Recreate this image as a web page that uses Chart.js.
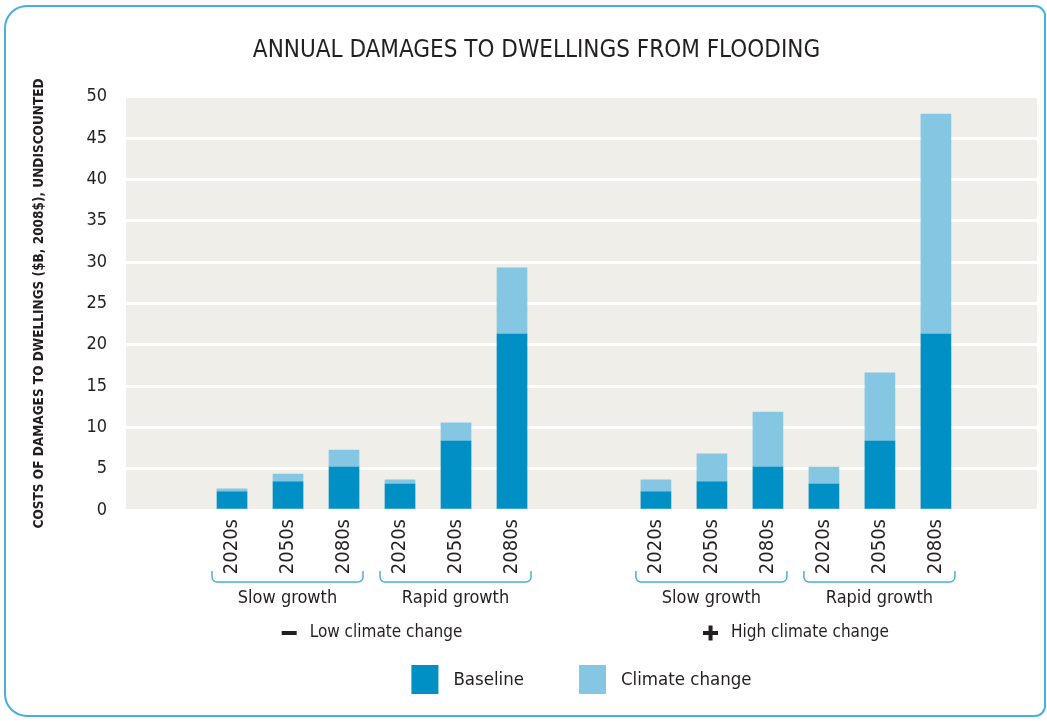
<!DOCTYPE html>
<html>
<head>
<meta charset="utf-8">
<script src="https://cdn.jsdelivr.net/npm/chart.js@4/dist/chart.umd.min.js"></script>
<style>
  html, body { margin: 0; padding: 0; background: #fff; }
  canvas { display: block; }
</style>
</head>
<body>
<canvas id="floodChart" width="1047" height="721"></canvas>
<script>
const FONT = "'Liberation Sans Narrow', 'DejaVu Sans Condensed', Roboto, sans-serif"
const textColor = '#231F20'
const baselineColor = '#0090C5'
const climateColor = '#85C6E3'
const plotBg = '#EFEEE9'
const lineBlue = '#4AAFDD'

const chartTitle = 'ANNUAL DAMAGES TO DWELLINGS FROM FLOODING'
const yTitle = 'COSTS OF DAMAGES TO DWELLINGS ($B, 2008$), UNDISCOUNTED'
const periods = ['2020s', '2050s', '2080s']
const growthLabels = ['Slow growth', 'Rapid growth']
const climateLabels = ['Low climate change', 'High climate change']
const climateIcons = ['minus', 'plus']
const seriesLabels = ['Baseline', 'Climate change']

// bars: low climate (slow 2020s-2080s, rapid 2020s-2080s), then high climate, same order
const baselineValues = [2.2, 3.4, 5.2, 3.15, 8.35, 21.3, 2.2, 3.4, 5.2, 3.15, 8.35, 21.3]
const climateValues = [0.35, 0.95, 2.05, 0.5, 2.2, 8.0, 1.45, 3.4, 6.65, 2.05, 8.25, 26.6]
const yMax = 50
const yStep = 5

// slot of each bar on the x axis (one unit per bar, wider gap between the two scenarios)
const scenarioGap = 7.57
const slots = baselineValues.map((v, i) => Math.floor(i / 6) * scenarioGap + (i % 6))

const barWidth = 30

//background, frame and the grey plot area
const frame = {
  id: 'frame',
  beforeDraw(chart) {
    const { ctx, chartArea: a } = chart
    ctx.save()
    ctx.fillStyle = '#fff'
    ctx.fillRect(0, 0, chart.width, chart.height)
    ctx.strokeStyle = lineBlue
    ctx.lineWidth = 2
    ctx.beginPath()
    ctx.roundRect(5, 6, 1040, 710, [22, 10, 10, 22])
    ctx.stroke()
    ctx.fillStyle = plotBg
    ctx.fillRect(a.left, a.top, a.right - a.left, a.bottom - a.top)
    ctx.restore()
  },
  afterDraw(chart) {
    const { ctx, chartArea: a } = chart
    const x = chart.scales.x
    const px = i => x.getPixelForValue(slots[i])
    ctx.save()
    ctx.fillStyle = textColor
    ctx.textBaseline = 'middle'

    for (let s = 0; s < 2; s++) {
      //growth brackets
      for (let g = 0; g < 2; g++) {
        const first = s * 6 + g * 3
        const x0 = px(first) - barWidth / 2 - 5
        const x1 = px(first + 2) + barWidth / 2 + 4
        ctx.strokeStyle = lineBlue
        ctx.lineWidth = 1.5
        ctx.beginPath()
        ctx.moveTo(x0, 571)
        ctx.arcTo(x0, 582, x0 + 5, 582, 5)
        ctx.arcTo(x1, 582, x1, 571, 5)
        ctx.lineTo(x1, 571)
        ctx.stroke()
        ctx.font = '18px ' + FONT
        ctx.textAlign = 'center'
        ctx.fillText(growthLabels[g], (x0 + x1) / 2, 598)
      }
      //climate scenario label with its sign
      const cx = (px(s * 6) + px(s * 6 + 5)) / 2
      ctx.font = '17px ' + FONT
      const tw = ctx.measureText(climateLabels[s]).width
      const start = cx - (28 + tw) / 2
      ctx.fillRect(start, 631, 15, 4)
      if (climateIcons[s] === 'plus') ctx.fillRect(start + 5.5, 625.5, 4, 15)
      ctx.textAlign = 'left'
      ctx.fillText(climateLabels[s], start + 28, 633)
    }

    //legend
    ctx.font = '18.5px ' + FONT
    const items = chart.data.datasets.map(d => ({ label: d.label, color: d.backgroundColor, w: ctx.measureText(d.label).width }))
    const total = items.reduce((t, it) => t + 27 + 15 + it.w, 0) + 55 * (items.length - 1)
    let lx = (a.left + a.right) / 2 - total / 2
    items.forEach(it => {
      ctx.fillStyle = it.color
      ctx.fillRect(lx, 665, 27, 29)
      ctx.fillStyle = textColor
      ctx.textAlign = 'left'
      ctx.fillText(it.label, lx + 42, 680)
      lx += 27 + 15 + it.w + 55
    })
    ctx.restore()
  }
}

new Chart(document.getElementById('floodChart'), {
  type: 'bar',
  data: {
    datasets: [{
      label: seriesLabels[0],
      data: baselineValues.map((v, i) => ({ x: slots[i], y: v })),
      backgroundColor: baselineColor,
      barThickness: barWidth
    }, {
      label: seriesLabels[1],
      data: climateValues.map((v, i) => ({ x: slots[i], y: v })),
      backgroundColor: climateColor,
      barThickness: barWidth
    }]
  },
  options: {
    responsive: false,
    animation: false,
    layout: { padding: { left: 36, right: 10, top: 0, bottom: 0 } },
    scales: {
      x: {
        type: 'linear',
        stacked: true,
        offset: false,
        min: -1.893,
        max: 14.375,
        grid: { display: false, drawTicks: false, offset: false },
        border: { display: false },
        afterBuildTicks: scale => { scale.ticks = slots.map(v => ({ value: v })) },
        afterFit: scale => { scale.height = 211 },
        ticks: {
          autoSkip: false,
          minRotation: 90,
          maxRotation: 90,
          padding: 9,
          color: textColor,
          font: { family: FONT, size: 20 },
          callback: (value, index) => periods[index % 3]
        }
      },
      y: {
        stacked: true,
        min: 0,
        max: yMax,
        grid: { color: '#fff', lineWidth: 3, drawTicks: false },
        border: { display: false },
        afterFit: scale => { scale.width = 90 },
        ticks: {
          stepSize: yStep,
          padding: 19,
          color: textColor,
          font: { family: FONT, size: 18 }
        },
        title: {
          display: true,
          text: yTitle,
          color: textColor,
          font: { family: FONT, size: 13.5, weight: 'bold' },
          padding: { top: -5, bottom: 0 }
        }
      }
    },
    plugins: {
      legend: { display: false },
      tooltip: { enabled: false },
      title: {
        display: true,
        text: chartTitle,
        color: textColor,
        font: { family: FONT, size: 24, weight: 'normal' },
        padding: { top: 36, bottom: 32 }
      }
    }
  },
  plugins: [frame]
});
</script>
</body>
</html>
